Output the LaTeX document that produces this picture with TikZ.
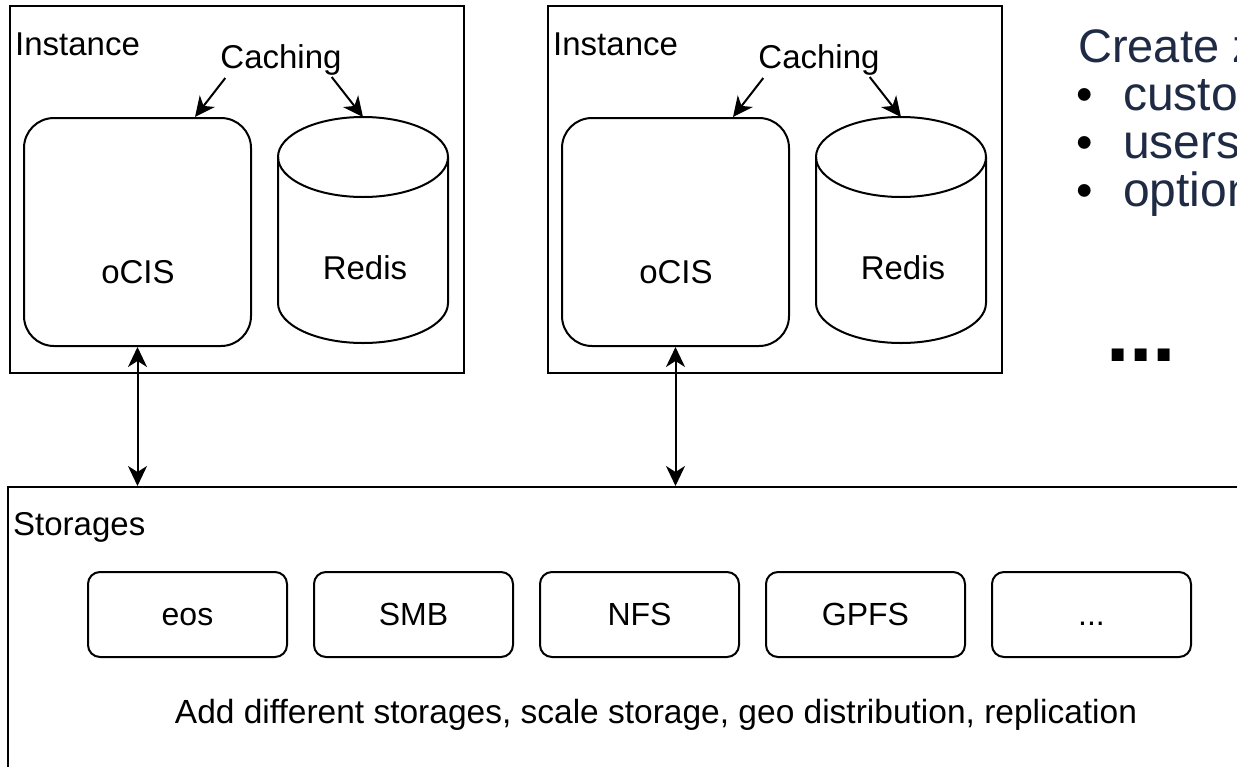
\documentclass[tikz,border=0pt]{standalone}
\usepackage{fontspec}
\setmainfont{Liberation Sans}
\usetikzlibrary{arrows.meta}
\definecolor{navy}{HTML}{1F2B45}
\tikzset{
  frame/.style={draw, line width=2pt, inner sep=0, anchor=north west},
  svc/.style={draw, line width=2pt, rounded corners=30pt, inner sep=0, anchor=north west},
  stbox/.style={draw, line width=2pt, rounded corners=12pt, inner sep=0,
    minimum width=199pt, minimum height=85pt, text height=22pt, text depth=0pt,
    font=\fontsize{32}{38}\selectfont},
  lbl/.style={inner sep=0, font=\fontsize{33}{40}\selectfont},
  tip/.tip={Stealth[length=20pt,width=19pt,inset=6pt]},
  arr/.style={line width=2pt, -tip},
  darr/.style={line width=2pt, tip-tip},
  slide/.style={inner sep=0, anchor=base west, text=navy, font=\fontsize{48}{56}\selectfont},
  bul/.style={inner sep=0, anchor=base, font=\fontsize{47}{56}\selectfont},
}
\begin{document}
\begin{tikzpicture}[x=1pt,y=-1pt]
\useasboundingbox (0,0) rectangle (1237,766);
\clip (0,0) rectangle (1237,766);
\fill[white] (0,0) rectangle (1237,766);

% storage area
\node[frame, minimum width=1300pt, minimum height=350pt] (stor) at (7,486) {};
\node[lbl, anchor=base west] (storl) at (13,535) {Storages};
\node[stbox] (eos)  at (187.5,614.5) {eos};
\node[stbox] (smb)  at (413.5,614.5) {SMB};
\node[stbox] (nfs)  at (639.5,614.5) {NFS};
\node[stbox] (gpfs) at (865.5,614.5) {GPFS};
\node[stbox] (etc)  at (1091.5,614.5) {...};
\node[lbl, anchor=base, font=\fontsize{33.5}{40}\selectfont] (note) at (656,723)
  {Add different storages, scale storage, geo distribution, replication};

% instances
\foreach \i/\dx in {1/0, 2/538} {
  \begin{scope}[xshift=\dx pt]
    \node[frame, minimum width=454pt, minimum height=367pt] (inst\i) at (9,5) {};
    \node[lbl, anchor=base west] (instl\i) at (15,55) {Instance};
    \node[svc, minimum width=227pt, minimum height=228pt] (ocis\i) at (23,117) {};
    \node[lbl, anchor=base] (ocisl\i) at (138,283) {oCIS};
    \draw[line width=2pt] (278,157) -- (278,303)
      arc[start angle=180, end angle=360, x radius=85pt, y radius=40pt] -- (448,157);
    \draw[line width=2pt] (363,157) ellipse [x radius=85pt, y radius=40pt];
    \coordinate (redis\i) at (363,117);
    \node[lbl, anchor=base] (redisl\i) at (365,279) {Redis};
    \node[lbl, anchor=base] (cach\i) at (281,68) {Caching};
    \coordinate (ocistop\i) at (195,117);
    \draw[arr] ([xshift=5pt,yshift=-3pt]cach\i.south west) -- (ocistop\i);
    \draw[arr] ([xshift=-10pt,yshift=-2pt]cach\i.south east) -- (redis\i);
    \draw[darr] (ocis\i.south) -- (ocis\i.south |- stor.north);
  \end{scope}
}

% slide text on the right
\node[slide, font=\fontsize{47}{56}\selectfont] (create) at (1078,62) {Create z};
\node[bul] (b1) at (1085,110) {•};
\node[bul] (b2) at (1085,158) {•};
\node[bul] (b3) at (1085,206) {•};
\node[slide] (t1) at (1123,110) {custo};
\node[slide] (t2) at (1123,158) {users};
\node[slide] (t3) at (1123,206) {option};
\node[inner sep=0, anchor=base west, font=\fontsize{84}{90}\selectfont\bfseries] (more) at (1106,361) {...};
\end{tikzpicture}
\end{document}
